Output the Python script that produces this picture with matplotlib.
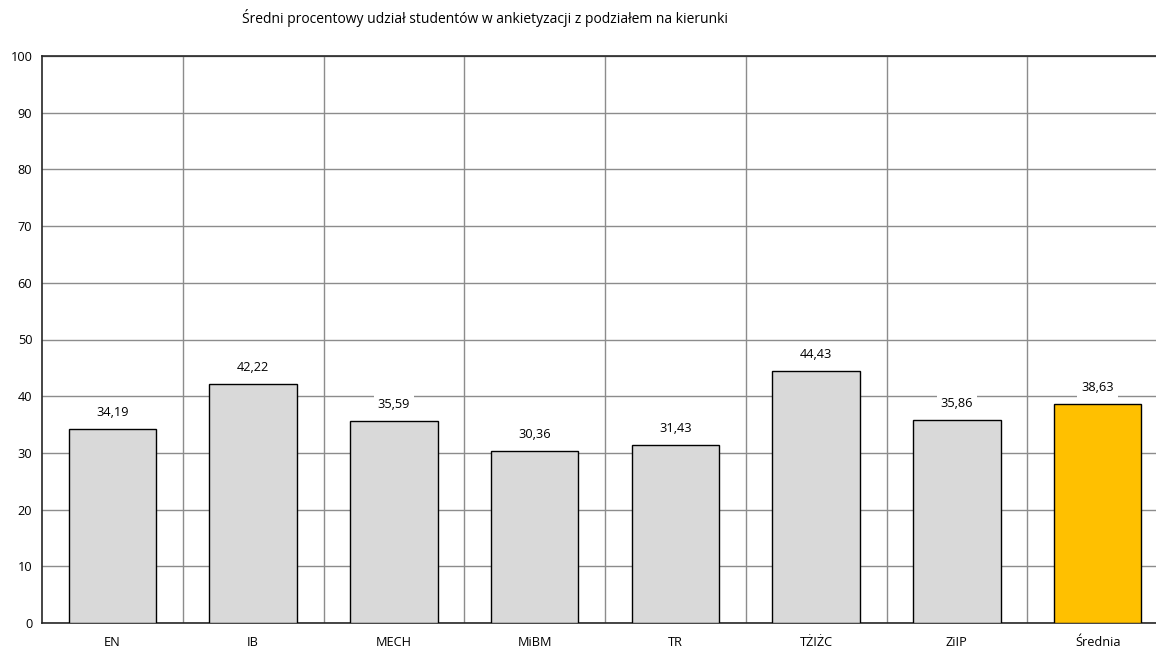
import matplotlib
matplotlib.use("Agg")
import matplotlib.pyplot as plt
import numpy as np

categories = ["EN", "IB", "MECH", "MiBM", "TR", "TŻIŻC", "ZiIP", "Średnia"]
values = [34.19, 42.22, 35.59, 30.36, 31.43, 44.43, 35.86, 38.63]
value_labels = ["34,19", "42,22", "35,59", "30,36", "31,43", "44,43", "35,86", "38,63"]
colors = ["#d9d9d9"] * 7 + ["#ffc000"]
title = "Średni procentowy udział studentów w ankietyzacji z podziałem na kierunki"

plt.rcParams['font.family'] = ['Open Sans', 'DejaVu Sans']

fig = plt.figure(figsize=(11.56, 6.5), dpi=100)
W, H = 1156, 650
left, right, top, bottom = 42, 1168, 56, 623
ax = fig.add_axes([left / W, 1 - bottom / H, (right - left) / W, (bottom - top) / H])

x = np.arange(len(categories))
ax.bar(x, values, width=0.62, color=colors, edgecolor="black", linewidth=1.0, zorder=3)

ax.set_xlim(-0.5, len(categories) - 0.5)
ax.set_ylim(0, 100)
ax.set_yticks(np.arange(0, 101, 10))
ax.set_xticks(x)
ax.set_xticklabels(categories)
ax.set_xticks(np.arange(0.5, len(categories) - 0.5, 1), minor=True)
ax.tick_params(axis='both', which='both', length=0, labelsize=9.2)
ax.tick_params(axis='x', pad=9)
ax.tick_params(axis='y', pad=7)

ax.grid(axis='y', which='major', color='#8c8c8c', linewidth=1.0, zorder=0)
ax.grid(axis='x', which='minor', color='#8c8c8c', linewidth=1.0, zorder=0)
ax.grid(axis='x', which='major', visible=False)
ax.set_axisbelow(True)

for s in ['left', 'top', 'bottom']:
    ax.spines[s].set_color('#262626')
    ax.spines[s].set_linewidth(1.2)
ax.spines['right'].set_visible(False)

for xi, v, lab in zip(x, values, value_labels):
    ax.annotate(lab, (xi, v), xytext=(0, 7), textcoords='offset points',
                ha='center', va='bottom', fontsize=9.2, zorder=4,
                bbox=dict(boxstyle='square,pad=0.3', fc='white', ec='none'))

fig.text(485 / W, 1 - 18 / H, title, ha='center', va='center', fontsize=10)

fig.savefig("out.png", dpi=100)
